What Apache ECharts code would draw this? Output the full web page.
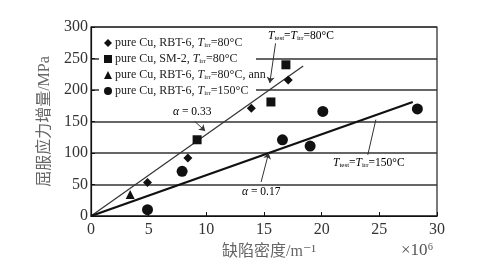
<!DOCTYPE html>
<html>
<head>
<meta charset="utf-8">
<script src="https://cdn.jsdelivr.net/npm/echarts@6/dist/echarts.min.js"></script>
<style>
  html, body { margin: 0; padding: 0; background: #fff; }
  #chart { width: 479px; height: 276px; }
</style>
</head>
<body>
<div id="chart"></div>
<script>
// data (defect density x10^6 m^-1, yield stress increase MPa)
const seriesNames = [
  "pure Cu, RBT-6, Tirr=80°C",
  "pure Cu, SM-2, Tirr=80°C",
  "pure Cu, RBT-6, Tirr=80°C, ann",
  "pure Cu, RBT-6, Tirr=150°C"
];
const rbt80 = [[4.9, 53], [8.4, 92], [13.9, 171], [17.1, 216]];
const sm80 = [[9.2, 121], [15.6, 181], [16.9, 240]];
const rbt80ann = [[3.4, 34]];
const rbt150 = [[4.9, 10], [7.9, 71], [16.6, 121], [19.0, 111], [20.1, 166], [28.3, 170]];
// fitted lines
const fit033 = [[0, 0], [18.4, 238]];
const fit017 = [[0, 0], [27.9, 181]];
// leader lines for annotations [from, to]
const leader80 = [[16.0, 274], [15.5, 211]];
const leader033 = [[9.0, 150], [9.9, 135]];
const leader017 = [[14.75, 54], [15.4, 100]];
const leader150 = [[24.0, 97], [24.7, 153]];

const xTicks = [0, 30, 5];
const yTicks = [0, 300, 50];

const serif = '"Liberation Serif", "DejaVu Serif", "Noto Sans CJK SC", serif';

const chart = echarts.init(document.getElementById("chart"));

const legendRich = {
  n: { fontFamily: serif, fontSize: 12, color: "#222", lineHeight: 12 },
  i: { fontFamily: serif, fontSize: 12, fontStyle: "italic", color: "#222", lineHeight: 12 },
  s: { fontFamily: serif, fontSize: 7, color: "#222", lineHeight: 12, verticalAlign: "bottom" }
};

function tempLabel(name) {
  // turn "Tirr" into italic T with subscript
  return name.replace(/^(.*?)Tirr(.*)$/, (m, a, b) => "{n|" + a + "}{i|T}{s|irr}{n|" + b + "}");
}

const annoRich = {
  n: { fontFamily: serif, fontSize: 11.5, color: "#222", lineHeight: 12 },
  i: { fontFamily: serif, fontSize: 11.5, fontStyle: "italic", color: "#222", lineHeight: 12 },
  s: { fontFamily: serif, fontSize: 7, color: "#222", lineHeight: 12, verticalAlign: "bottom" }
};

function leader(pair, arrow) {
  return [
    { coord: pair[0], symbol: "none" },
    { coord: pair[1], symbol: arrow ? "arrow" : "none", symbolSize: 6 }
  ];
}

chart.setOption({
  animation: false,
  grid: {
    left: 91, right: 42, top: 27, bottom: 60,
    show: true, borderColor: "#222", borderWidth: 1.2, backgroundColor: "transparent"
  },
  legend: {
    orient: "vertical",
    left: 98, top: 34,
    padding: [3, 6, 3, 6],
    itemGap: 4,
    itemWidth: 8, itemHeight: 8,
    z: 10,
    data: seriesNames,
    formatter: (name) => tempLabel(name),
    textStyle: { rich: legendRich, padding: [0, 0, 0, -2] }
  },
  xAxis: {
    type: "value",
    min: xTicks[0], max: xTicks[1], interval: xTicks[2],
    axisLine: { lineStyle: { color: "#111", width: 1.2 } },
    axisTick: { inside: true, length: 4, lineStyle: { color: "#111" } },
    splitLine: { show: false },
    axisLabel: { fontFamily: serif, fontSize: 16, color: "#333", margin: 6 }
  },
  yAxis: {
    type: "value",
    min: yTicks[0], max: yTicks[1], interval: yTicks[2],
    name: "屈服应力增量/MPa",
    nameLocation: "middle",
    nameGap: 38,
    nameTextStyle: { fontFamily: serif, fontSize: 16, color: "#666" },
    axisLine: { lineStyle: { color: "#111", width: 1.2 } },
    axisTick: { inside: true, length: 4, lineStyle: { color: "#111" } },
    splitLine: { lineStyle: { color: "#333", width: 1.5 } },
    axisLabel: { fontFamily: serif, fontSize: 16, color: "#333", margin: 3 }
  },
  graphic: {
    z: 3,
    elements: [
      { type: "rect", z: 3, shape: { x: 99, y: 32, width: 157, height: 69 },
        style: { fill: "#fff" } },
      { type: "text", left: 222, top: 244,
        style: { text: "缺陷密度/m⁻¹", fontFamily: serif, fontSize: 16, fill: "#666" } },
      { type: "text", left: 401, top: 242,
        style: { text: "×10⁶", fontFamily: serif, fontSize: 17, fill: "#555" } },
      { type: "text", left: 268, top: 30,
        style: { rich: annoRich, text: "{i|T}{s|test}{n|=}{i|T}{s|irr}{n|=80°C}" } },
      { type: "text", left: 173, top: 106,
        style: { rich: annoRich, text: "{i|α}{n| = 0.33}" } },
      { type: "text", left: 242, top: 186,
        style: { rich: annoRich, text: "{i|α}{n| = 0.17}" } },
      { type: "text", left: 333, top: 157,
        style: { rich: annoRich, text: "{i|T}{s|test}{n|=}{i|T}{s|irr}{n|=150°C}" } }
    ]
  },
  series: [
    {
      name: "fit 0.33", type: "line", data: fit033, symbol: "none",
      lineStyle: { color: "#333", width: 1.2 }, z: 4, silent: true,
      markLine: {
        silent: true, symbol: ["none", "arrow"], symbolSize: 6,
        lineStyle: { color: "#333", width: 1, type: "solid" },
        label: { show: false },
        data: [leader(leader80, true), leader(leader033, true)]
      }
    },
    {
      name: "fit 0.17", type: "line", data: fit017, symbol: "none",
      lineStyle: { color: "#111", width: 2.2 }, z: 4, silent: true,
      markLine: {
        silent: true, symbol: ["none", "arrow"], symbolSize: 4,
        lineStyle: { color: "#333", width: 1, type: "solid" },
        label: { show: false },
        data: [leader(leader017, true), leader(leader150, false)]
      }
    },
    { name: seriesNames[0], type: "scatter", data: rbt80, symbol: "diamond", symbolSize: 9,
      itemStyle: { color: "#111", opacity: 1 }, z: 5 },
    { name: seriesNames[1], type: "scatter", data: sm80, symbol: "rect", symbolSize: 9,
      itemStyle: { color: "#111", opacity: 1 }, z: 5 },
    { name: seriesNames[2], type: "scatter", data: rbt80ann, symbol: "triangle", symbolSize: 9,
      itemStyle: { color: "#111", opacity: 1 }, z: 5 },
    { name: seriesNames[3], type: "scatter", data: rbt150, symbol: "circle", symbolSize: 11,
      itemStyle: { color: "#111", opacity: 1 }, z: 5 }
  ]
});
</script>
</body>
</html>
